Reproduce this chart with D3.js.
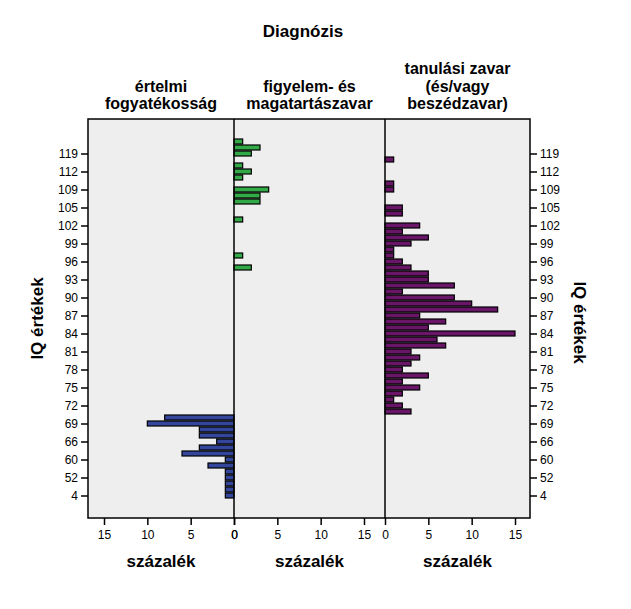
<!DOCTYPE html>
<html>
<head>
<meta charset="utf-8">
<script src="https://cdn.jsdelivr.net/npm/d3@7"></script>
<style>
  body { margin: 0; background: #fff; }
  text { font-family: "Liberation Sans", Arial, sans-serif; fill: #000; }
  .title { font-weight: bold; font-size: 17px; }
  .head { font-weight: bold; font-size: 16px; }
  .tick text { font-size: 12px; }
  .domain { display: none; }
</style>
</head>
<body>
<div id="container"></div>
<script>
/* CONSTANTS AND GLOBALS */
const width = 631,
  height = 609,
  plotTop = 119,
  plotBottom = 518,
  edges = [88, 234, 385, 530]; // left edge, two dividers, right edge

// IQ categories, top to bottom (every third one is labelled)
const categories = ["123", "120", "119", "117", "115", "112", "111", "110", "109", "107",
  "106", "105", "104", "103", "102", "101", "100", "99", "98", "97", "96", "95", "94",
  "93", "92", "91", "90", "89", "88", "87", "86", "85", "84", "83", "82", "81", "80",
  "79", "78", "77", "76", "75", "74", "73", "72", "71", "70", "69", "68", "67", "66",
  "64", "62", "60", "57", "55", "52", "50", "45", "4"];

const groupNames = [["értelmi", "fogyatékosság"], ["figyelem- és", "magatartászavar"],
  ["tanulási zavar", "(és/vagy", "beszédzavar)"]];

// percentages
const intellectual = [["70", 8], ["69", 10], ["68", 4], ["67", 4], ["66", 2], ["64", 4],
  ["62", 6], ["60", 1], ["57", 3], ["55", 1], ["52", 1], ["50", 1], ["45", 1], ["4", 1]];

const attention = [["123", 1], ["120", 3], ["119", 2], ["115", 1], ["112", 2], ["111", 1],
  ["109", 4], ["107", 3], ["106", 3], ["103", 1], ["97", 1], ["95", 2]];

const learning = [["117", 1], ["110", 1], ["109", 1], ["105", 2], ["104", 2], ["102", 4],
  ["101", 2], ["100", 5], ["99", 3], ["98", 1], ["97", 1], ["96", 2], ["95", 3], ["94", 5],
  ["93", 5], ["92", 8], ["91", 2], ["90", 8], ["89", 10], ["88", 13], ["87", 4], ["86", 7],
  ["85", 5], ["84", 15], ["83", 6], ["82", 7], ["81", 3], ["80", 4], ["79", 3], ["78", 2],
  ["77", 5], ["76", 2], ["75", 4], ["74", 2], ["73", 1], ["72", 2], ["71", 3]];

const pctTicks = [0, 5, 10, 15];
const colors = ["#34469c", "#33aa48", "#6a1668"];

const svg = d3.select("#container")
  .append("svg")
  .attr("width", width)
  .attr("height", height);

// + SCALES
const yScale = d3.scalePoint()
  .domain(categories)
  .range([plotTop, plotBottom])
  .padding(3.75);

const pxPer15 = 130;
const xScales = [
  d3.scaleLinear().domain([0, 15]).range([edges[1], edges[1] - pxPer15]), // mirrored
  d3.scaleLinear().domain([0, 15]).range([edges[1], edges[1] + pxPer15]),
  d3.scaleLinear().domain([0, 15]).range([edges[2], edges[2] + pxPer15])
];

// plot background
svg.append("rect")
  .attr("x", edges[0])
  .attr("y", plotTop)
  .attr("width", edges[3] - edges[0])
  .attr("height", plotBottom - plotTop)
  .attr("fill", "#eeeeee");

// + BARS
const series = [intellectual, attention, learning];
const barH = 5;
series.forEach((data, i) => {
  const x = xScales[i];
  svg.append("g")
    .selectAll("rect")
    .data(data)
    .join("rect")
    .attr("x", d => Math.min(x(0), x(d[1])))
    .attr("y", d => yScale(d[0]) - barH / 2)
    .attr("width", d => Math.abs(x(d[1]) - x(0)))
    .attr("height", barH)
    .attr("fill", colors[i])
    .attr("stroke", "#000")
    .attr("stroke-width", 1.2);
});

// frame and dividers
svg.append("rect")
  .attr("x", edges[0])
  .attr("y", plotTop)
  .attr("width", edges[3] - edges[0])
  .attr("height", plotBottom - plotTop)
  .attr("fill", "none")
  .attr("stroke", "#000")
  .attr("stroke-width", 1.5);

[edges[1], edges[2]].forEach(xv => {
  svg.append("line")
    .attr("x1", xv).attr("x2", xv)
    .attr("y1", plotTop).attr("y2", plotBottom)
    .attr("stroke", "#000")
    .attr("stroke-width", 1.5);
});

// + AXES
const labelled = categories.filter((c, i) => i % 3 === 2);

svg.append("g")
  .attr("transform", `translate(${edges[0]},0)`)
  .call(d3.axisLeft(yScale).tickValues(labelled).tickSize(7).tickPadding(3));

svg.append("g")
  .attr("transform", `translate(${edges[3]},0)`)
  .call(d3.axisRight(yScale).tickValues(labelled).tickSize(7).tickPadding(3));

xScales.forEach(x => {
  svg.append("g")
    .attr("transform", `translate(0,${plotBottom})`)
    .call(d3.axisBottom(x).tickValues(pctTicks).tickSize(7).tickPadding(5));
});

svg.selectAll(".tick line").attr("stroke", "#000").attr("stroke-width", 1.5);

// + TITLES
svg.append("text")
  .attr("class", "title")
  .attr("x", 303)
  .attr("y", 37)
  .attr("text-anchor", "middle")
  .text("Diagnózis");

groupNames.forEach((lines, i) => {
  const cx = (edges[i] + edges[i + 1]) / 2;
  lines.forEach((line, j) => {
    svg.append("text")
      .attr("class", "head")
      .attr("x", cx)
      .attr("y", 109 - (lines.length - 1 - j) * 17.5)
      .attr("text-anchor", "middle")
      .text(line);
  });
  svg.append("text")
    .attr("class", "title")
    .attr("x", cx)
    .attr("y", 567)
    .attr("text-anchor", "middle")
    .text("százalék");
});

// y axis titles
svg.append("text")
  .attr("class", "title")
  .attr("transform", `translate(43,${(plotTop + plotBottom) / 2}) rotate(-90)`)
  .attr("text-anchor", "middle")
  .text("IQ értékek");

svg.append("text")
  .attr("class", "title")
  .attr("transform", `translate(574,${(plotTop + plotBottom) / 2 + 4}) rotate(90)`)
  .attr("text-anchor", "middle")
  .text("IQ értékek");
</script>
</body>
</html>
